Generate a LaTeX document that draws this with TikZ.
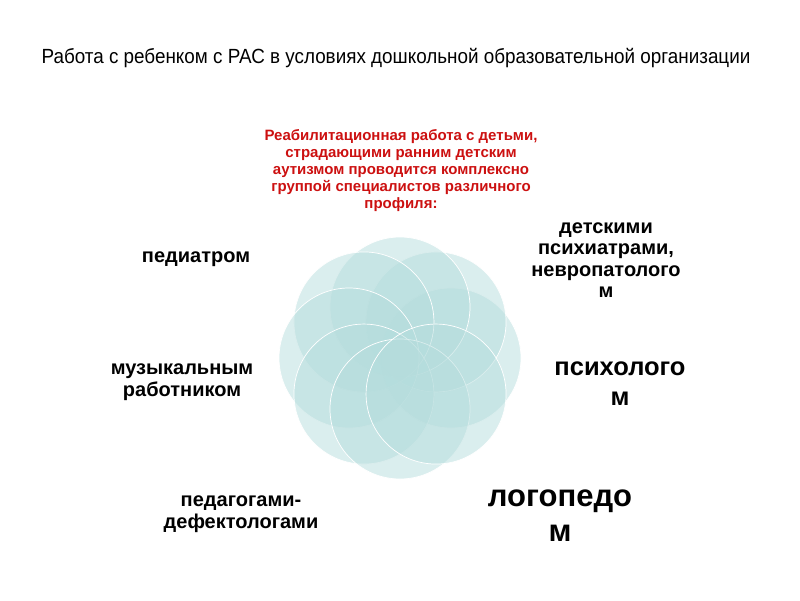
\documentclass[tikz,border=0pt]{standalone}
\usepackage{fontspec}
\setmainfont{Liberation Sans}
\newfontfamily\narrowfont[FakeStretch=0.92]{Liberation Sans}
\definecolor{petalblue}{RGB}{180,220,220}
\definecolor{leadred}{RGB}{204,16,16}

\begin{document}
\begin{tikzpicture}[x=1pt,y=-1pt,
	petal/.style={fill=petalblue,fill opacity=0.49,draw=white,line width=0.7pt},
	who/.style={font=\bfseries\fontsize{20}{21.5}\selectfont,align=center},
	whobig/.style={font=\bfseries\fontsize{25.5}{30}\selectfont,align=center}]
	\useasboundingbox (0,0) rectangle (800,600);
	\node[font=\narrowfont\fontsize{20.5}{22}\selectfont] (title) at (396,58)
	{Работа с ребенком с РАС в условиях дошкольной образовательной организации};
	\node[font=\bfseries\fontsize{15}{17}\selectfont,text=leadred,align=center] (lead) at (401,171)
	{Реабилитационная работа с детьми,\\ страдающими ранним детским\\ аутизмом проводится комплексно\\ группой специалистов различного\\ профиля:};
	% Blume aus acht Kreisen
	\foreach \a in {0,45,...,315}
	\draw[petal] ({400+51*cos(\a)},{358-51*sin(\a)}) circle[radius=70pt];
	\node[who] (pediatr) at (196,259) {педиатром};
	\node[who] (psychiatr) at (606,260) {детскими\\ психиатрами,\\ невропатолого\\ м};
	\node[whobig] (psycholog) at (620,384) {психолого\\ м};
	\node[who] (music) at (182,382) {музыкальным\\ работником};
	\node[who] (defekt) at (241,514) {педагогами-\\ дефектологами};
	\node[whobig,font=\bfseries\fontsize{31}{35}\selectfont] (logoped) at (560,516) {логопедо\\ м};
\end{tikzpicture}
\end{document}
